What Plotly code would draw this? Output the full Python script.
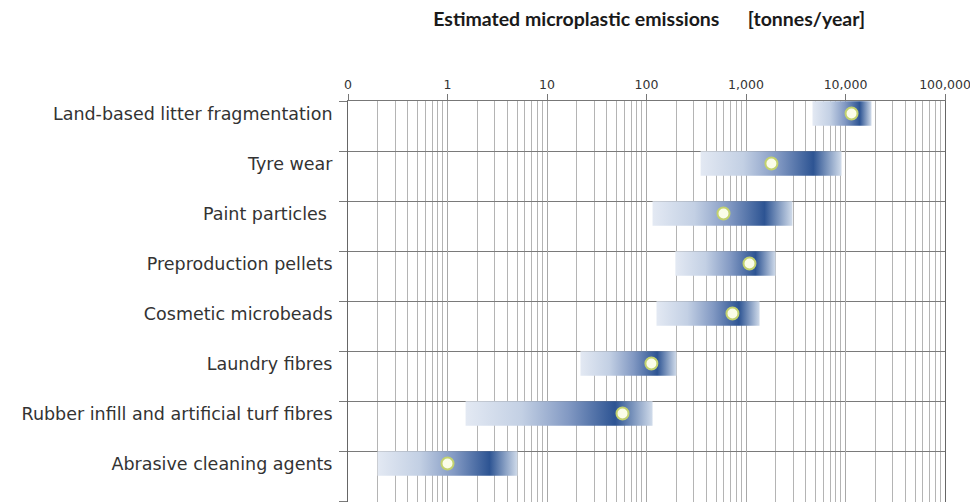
import plotly.graph_objects as go

categories = [
    "Land-based litter fragmentation",
    "Tyre wear",
    "Paint particles ",
    "Preproduction pellets",
    "Cosmetic microbeads",
    "Laundry fibres",
    "Rubber infill and artificial turf fibres",
    "Abrasive cleaning agents",
]
range_low = [4660, 350, 115, 195, 126, 21.7, 1.52, 0.198]
range_high = [18250, 9120, 2930, 1980, 1370, 200, 115, 5.05]
central = [11500, 1800, 594, 1084, 731, 112, 57.4, 1.0]

tick_vals = [0.1, 1, 10, 100, 1000, 10000, 100000]
tick_text = ["0", "1", "10", "100", "1,000", "10,000", "100,000"]

bar_half = 0.245
grad = [[0, "#e3e9f3"], [0.3, "#c3d0e4"], [0.55, "#8299c3"], [0.8, "#2d5493"], [1, "#d0dbea"]]

fig = go.Figure()
for i, cat in enumerate(categories):
    lo, hi = range_low[i], range_high[i]
    yc = i
    fig.add_trace(go.Scatter(
        x=[lo, hi, hi, lo, lo],
        y=[yc - bar_half, yc - bar_half, yc + bar_half, yc + bar_half, yc - bar_half],
        mode="lines", fill="toself", line=dict(width=0),
        fillgradient=dict(type="horizontal", colorscale=grad),
        hoverinfo="skip", showlegend=False,
    ))

fig.add_trace(go.Scatter(
    x=central, y=list(range(len(categories))), mode="markers",
    marker=dict(size=12, color="#fbfde9", line=dict(color="#c3d26e", width=2)),
    hoverinfo="skip", showlegend=False,
))

fig.update_layout(
    width=970, height=494,
    margin=dict(l=340, r=33, t=93, b=0),
    paper_bgcolor="white", plot_bgcolor="white",
    title=dict(
        text="<b>Estimated microplastic emissions &nbsp; &nbsp; &nbsp;[tonnes/year]</b>",
        x=0.661, xanchor="center", y=0.978, yanchor="middle",
        font=dict(family="Lato", size=19.5, color="#1a1a1a"),
    ),
    font=dict(family="DejaVu Sans", color="#333333"),
)
fig.update_xaxes(
    type="log", range=[-1, 5], side="top",
    tickmode="array", tickvals=tick_vals, ticktext=tick_text,
    tickfont=dict(size=12.5, family="DejaVu Sans", color="#333333"),
    ticks="outside", ticklen=6, tickcolor="#777777",
    showgrid=True, gridcolor="#a8a8a8", gridwidth=1,
    minor=dict(dtick="D1", showgrid=True, gridcolor="#b4b4b4", gridwidth=1, ticks=""),
    showline=True, linecolor="#777777", linewidth=1,
    zeroline=False,
)
fig.update_yaxes(
    range=[7.77, -0.25], autorange=False,
    tickmode="array", tickvals=list(range(len(categories))), ticktext=categories,
    tickfont=dict(size=17.5, family="DejaVu Sans", color="#333333"),
    ticks="", ticklabelstandoff=11,
    showgrid=False,
    minor=dict(tickvals=[i - 0.25 for i in range(len(categories) + 1)],
               showgrid=True, gridcolor="#7a7a7a", gridwidth=1,
               ticks="outside", ticklen=8, tickcolor="#7a7a7a"),
    showline=True, linecolor="#666666", linewidth=1, mirror=True,
    zeroline=False,
)

fig.write_html("out.html")
